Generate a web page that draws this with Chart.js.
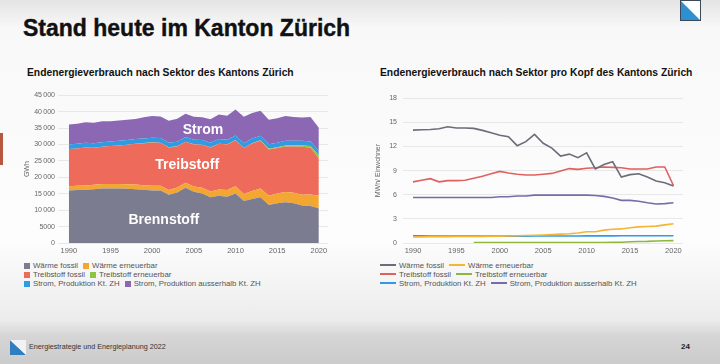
<!DOCTYPE html>
<html>
<head>
<meta charset="utf-8">
<script src="https://cdn.jsdelivr.net/npm/chart.js@4/dist/chart.umd.min.js"></script>
<style>
  html, body { margin: 0; padding: 0; }
  body {
    width: 720px; height: 364px; position: relative; overflow: hidden;
    font-family: "Liberation Sans", Arial, sans-serif;
    background: linear-gradient(to bottom, #e4e4e4 0px, #f8f8f8 28px, #fdfdfd 240px, #ececec 320px, #d6d6d6 335px, #cbcbcb 364px);
  }
  .title { position: absolute; left: 23px; top: 15px; font-size: 23px; font-weight: bold; color: #111; -webkit-text-stroke: 0.4px #111; }
  .ctitle { position: absolute; top: 67px; font-size: 10.3px; font-weight: bold; color: #111; }
  .wrap { position: absolute; }
  .legend { position: absolute; font-size: 7.8px; color: #555; line-height: 9px; }
  .legend span.item { margin-right: 5px; white-space: nowrap; }
  .legend i { display: inline-block; margin-right: 3px; }
  .sq { width: 6px; height: 6px; vertical-align: -0.5px; }
  .ln { width: 16px; height: 2px; vertical-align: 2px; }
  .redbar { position: absolute; left: 0; top: 133px; width: 3px; height: 32px; background: #b8573f; }
  .foot { position: absolute; left: 29px; top: 342px; font-size: 7.2px; color: #333; }
  .page { position: absolute; left: 681px; top: 342px; font-size: 8px; font-weight: bold; color: #222; }
</style>
</head>
<body>
<div class="redbar"></div>
<svg style="position:absolute;left:680px;top:0px" width="21" height="21" viewBox="0 0 21 21">
  <rect x="0.5" y="0.5" width="20" height="20" fill="#ffffff" stroke="#3a4a5a" stroke-width="1"/>
  <polygon points="1,1 20,20 1,20" fill="#2f8fd0"/>
</svg>
<div class="title">Stand heute im Kanton Zürich</div>
<div class="ctitle" style="left:27px">Endenergieverbrauch nach Sektor des Kantons Zürich</div>
<div class="ctitle" style="left:380px">Endenergieverbrauch nach Sektor pro Kopf des Kantons Zürich</div>

<div class="wrap" style="left:20px;top:88px;width:315px;height:172px"><canvas id="left"></canvas></div>
<div class="wrap" style="left:368px;top:88px;width:320px;height:172px"><canvas id="right"></canvas></div>

<div class="legend" id="legLeft" style="left:24px;top:261px"></div>
<div class="legend" id="legRight" style="left:380px;top:261px"></div>

<svg style="position:absolute;left:10px;top:340px" width="16" height="15" viewBox="0 0 16 15">
  <polygon points="0,0 16,15 0,15" fill="#2f7fc0"/>
  <polygon points="0,0 16,0 16,15" fill="#f2f2f2"/>
</svg>
<div class="foot">Energiestrategie und Energieplanung 2022</div>
<div class="page">24</div>

<script>
'use strict';

const years = [1990, 1991, 1992, 1993, 1994, 1995, 1996, 1997, 1998, 1999,
  2000, 2001, 2002, 2003, 2004, 2005, 2006, 2007, 2008, 2009,
  2010, 2011, 2012, 2013, 2014, 2015, 2016, 2017, 2018, 2019, 2020];

const seriesNames = ['Wärme fossil', 'Wärme erneuerbar', 'Treibstoff fossil', 'Treibstoff erneuerbar',
  'Strom, Produktion Kt. ZH', 'Strom, Produktion ausserhalb Kt. ZH'];

// GWh, left chart (stacked)
const waermeFossil = [16000, 16100, 16200, 16400, 16600, 16600, 16600, 16500, 16400, 16200,
  16000, 16000, 14700, 15400, 16800, 15600, 15100, 13900, 14400, 14100,
  15100, 12800, 13400, 13900, 11600, 12100, 12400, 12100, 11400, 11300, 10600];
const waermeErneuerbar = [1300, 1300, 1300, 1300, 1350, 1350, 1350, 1350, 1400, 1400,
  1400, 1450, 1450, 1500, 1550, 1600, 1700, 1800, 1900, 2000,
  2200, 2100, 2400, 2700, 2800, 3000, 3100, 3200, 3300, 3500, 3800];
const treibstoffFossil = [11300, 11400, 11600, 11300, 11350, 11550, 11750, 12050, 12400, 12800,
  13200, 13050, 12950, 12500, 12450, 12800, 13100, 13400, 13900, 13900,
  14000, 14000, 14500, 14500, 14100, 13800, 13900, 14100, 14600, 14200, 11300];
const treibstoffErneuerbar = [0, 0, 0, 0, 0, 0, 0, 50, 50, 50,
  50, 50, 50, 50, 50, 50, 50, 50, 50, 50,
  50, 50, 100, 150, 200, 250, 300, 350, 400, 500, 1100];
const stromZH = [1400, 1400, 1400, 1400, 1400, 1400, 1400, 1400, 1400, 1400,
  1400, 1400, 1400, 1400, 1400, 1400, 1400, 1400, 1400, 1400,
  1400, 1400, 1400, 1400, 1400, 1400, 1400, 1400, 1400, 1400, 1200];
const stromAusserhalb = [6100, 6100, 6300, 6200, 6400, 6200, 6200, 6200, 6100, 6400,
  6600, 6600, 6700, 7000, 7100, 7000, 6900, 7100, 7500, 7300,
  7900, 8100, 7800, 7650, 7400, 7450, 7600, 7250, 7100, 7500, 7100];

// MWh per Einwohner, right chart
const pkWaermeFossil = [14.03, 14.07, 14.1, 14.2, 14.45, 14.3, 14.3, 14.25, 14.0, 13.7,
  13.4, 13.2, 12.1, 12.6, 13.5, 12.4, 11.8, 10.8, 11.05, 10.6,
  11.2, 9.2, 9.75, 10.1, 8.2, 8.5, 8.6, 8.2, 7.7, 7.5, 7.1];
const pkWaermeErneuerbar = [0.75, 0.76, 0.77, 0.78, 0.79, 0.8, 0.8, 0.81, 0.82, 0.83,
  0.85, 0.87, 0.9, 0.93, 0.96, 1.0, 1.05, 1.1, 1.15, 1.25,
  1.4, 1.4, 1.6, 1.7, 1.75, 1.9, 2.0, 2.05, 2.1, 2.25, 2.4];
const pkTreibstoffFossil = [7.6, 7.8, 8.0, 7.6, 7.75, 7.75, 7.8, 8.05, 8.3, 8.6,
  8.9, 8.7, 8.55, 8.45, 8.45, 8.55, 8.65, 8.95, 9.25, 9.15,
  9.3, 9.35, 9.45, 9.4, 9.35, 9.2, 9.2, 9.2, 9.45, 9.45, 7.15];
const pkTreibstoffErneuerbar = [null, null, null, null, null, null, null, 0.05, 0.05, 0.05,
  0.05, 0.05, 0.05, 0.05, 0.05, 0.05, 0.05, 0.05, 0.05, 0.05,
  0.05, 0.05, 0.07, 0.1, 0.1, 0.15, 0.18, 0.2, 0.25, 0.28, 0.3];
const pkStromZH = [0.9, 0.88, 0.87, 0.86, 0.86, 0.86, 0.86, 0.86, 0.86, 0.86,
  0.86, 0.86, 0.86, 0.86, 0.87, 0.87, 0.87, 0.87, 0.87, 0.87,
  0.88, 0.88, 0.88, 0.88, 0.9, 0.9, 0.9, 0.9, 0.9, 0.9, 0.9];
const pkStromAusserhalb = [5.65, 5.65, 5.65, 5.65, 5.65, 5.65, 5.65, 5.65, 5.65, 5.65,
  5.75, 5.75, 5.85, 5.85, 5.95, 5.95, 5.95, 5.95, 5.95, 5.95,
  5.95, 5.9, 5.8, 5.6, 5.3, 5.3, 5.2, 5.0, 4.85, 4.9, 5.0];

const yTicksLeft = [0, 5000, 10000, 15000, 20000, 25000, 30000, 35000, 40000, 45000];
const yTicksRight = [0, 3, 6, 9, 12, 15, 18];
const xTicks = [1990, 1995, 2000, 2005, 2010, 2015, 2020];

const areaColors = ['#7b7c90', '#f3a732', '#ee6a5a', '#8cc444', '#2f9be2', '#8c68b4'];
const lineColors = ['#6c6c7a', '#f4b534', '#e0605e', '#8db83c', '#2f9be2', '#7a6aa8'];

const FONT = '"Liberation Sans", Arial, sans-serif';

function pts(arr) {
  return arr.map((v, i) => ({x: years[i], y: v}));
}

const areaLabels = {
  font: 'bold 14px ' + FONT,
  items: [
    {text: 'Strom', x: 2006.1, y: 34450},
    {text: 'Treibstoff', x: 2004.2, y: 23600},
    {text: 'Brennstoff', x: 2001.4, y: 7050}
  ]
};

const areaLabelPlugin = {
  id: 'areaLabels',
  afterDatasetsDraw(chart) {
    let ctx = chart.ctx, xs = chart.scales.x, ys = chart.scales.y;
    ctx.save();
    ctx.font = areaLabels.font;
    ctx.fillStyle = '#ffffff';
    ctx.textAlign = 'center';
    ctx.textBaseline = 'middle';
    areaLabels.items.forEach(it => ctx.fillText(it.text, xs.getPixelForValue(it.x), ys.getPixelForValue(it.y)));
    ctx.restore();
  }
};

function xScale(min, max) {
  return {
    type: 'linear', min: min, max: max,
    afterBuildTicks: s => { s.ticks = xTicks.map(v => ({value: v})); },
    grid: {display: false, drawTicks: false},
    border: {display: false},
    ticks: {color: '#666', font: {family: FONT, size: 7.5}, padding: 3, maxRotation: 0, callback: v => String(v)}
  };
}

function _buildLeftChart() {
  let values = [waermeFossil, waermeErneuerbar, treibstoffFossil, treibstoffErneuerbar, stromZH, stromAusserhalb],
    ctx = document.getElementById('left');

  new Chart(ctx, {
    type: 'line',
    data: {
      datasets: values.map((arr, i) => ({
        label: seriesNames[i],
        data: pts(arr),
        backgroundColor: areaColors[i],
        borderWidth: 0,
        pointRadius: 0,
        fill: i === 0 ? 'origin' : '-1',
        tension: 0
      }))
    },
    options: {
      animation: false,
      responsive: true,
      maintainAspectRatio: false,
      layout: {padding: {top: 5, right: 7, bottom: 2, left: 0}},
      plugins: {legend: {display: false}, tooltip: {enabled: false}},
      scales: {
        x: xScale(1988.7, 2021.1),
        y: {
          stacked: true, min: 0, max: 45000,
          afterBuildTicks: s => { s.ticks = yTicksLeft.map(v => ({value: v})); },
          afterFit: s => { s.width = 38; },
          grid: {color: '#e2e2e2', lineWidth: 0.8, drawTicks: false},
          border: {display: false},
          title: {display: true, text: 'GWh', color: '#666', font: {family: FONT, size: 7}, padding: {top: 3, bottom: 0}},
          ticks: {
            color: '#666', font: {family: FONT, size: 7}, padding: 3,
            callback: v => v >= 10000 ? String(v).replace(/(\d+)(\d{3})$/, '$1\u2009$2') : String(v)
          }
        }
      }
    },
    plugins: [areaLabelPlugin]
  });
}

function _buildRightChart() {
  let values = [pkWaermeFossil, pkWaermeErneuerbar, pkTreibstoffFossil, pkTreibstoffErneuerbar, pkStromZH, pkStromAusserhalb],
    ctx = document.getElementById('right');

  new Chart(ctx, {
    type: 'line',
    data: {
      datasets: values.map((arr, i) => ({
        label: seriesNames[i],
        data: pts(arr),
        borderColor: lineColors[i],
        borderWidth: 1.6,
        pointRadius: 0,
        fill: false,
        tension: 0
      }))
    },
    options: {
      animation: false,
      responsive: true,
      maintainAspectRatio: false,
      layout: {padding: {top: 5, right: 5, bottom: 2, left: 0}},
      plugins: {legend: {display: false}, tooltip: {enabled: false}},
      scales: {
        x: xScale(1988.85, 2021.1),
        y: {
          min: 0, max: 18,
          afterBuildTicks: s => { s.ticks = yTicksRight.map(v => ({value: v})); },
          afterFit: s => { s.width = 35; },
          grid: {color: '#e2e2e2', lineWidth: 0.8, drawTicks: false},
          border: {display: false},
          title: {display: true, text: 'MWh/ Einwohner', color: '#666', font: {family: FONT, size: 7}, padding: {top: 6, bottom: 0}},
          ticks: {color: '#666', font: {family: FONT, size: 7}, padding: 6}
        }
      }
    }
  });
}

function buildLegend(id, colors, cls) {
  let el = document.getElementById(id), html = '';
  seriesNames.forEach((name, i) => {
    html += '<span class="item"><i class="' + cls + '" style="background:' + colors[i] + '"></i>' + name + '</span>';
    if (i % 2 === 1) html += '<br>';
  });
  el.innerHTML = html;
}

_buildLeftChart();
_buildRightChart();
buildLegend('legLeft', areaColors, 'sq');
buildLegend('legRight', lineColors, 'ln');
</script>
</body>
</html>
